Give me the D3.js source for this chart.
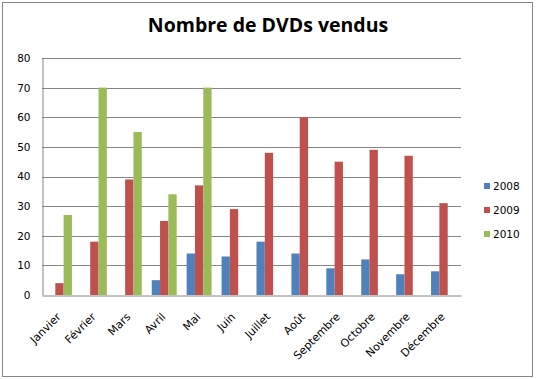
<!DOCTYPE html>
<html><head><meta charset="utf-8">
<script src="https://cdn.jsdelivr.net/npm/d3@7"></script>
<style>body{margin:0;background:#fff}svg{display:block}</style>
</head><body>
<script>
const months = ["Janvier","Février","Mars","Avril","Mai","Juin","Juillet","Août","Septembre","Octobre","Novembre","Décembre"];
const years = ["2008","2009","2010"];
const v2008 = [0,0,0,5,14,13,18,14,9,12,7,8];
const v2009 = [4,18,39,25,37,29,48,60,45,49,47,31];
const v2010 = [27,70,55,34,70,0,0,0,0,0,0,0];
const yTicks = [0,10,20,30,40,50,60,70,80];
const colors = ["#4F81BD","#C0504D","#9BBB59"];
const series = [v2008, v2009, v2010];

const W = 537, H = 379;
const svg = d3.select("body").append("svg").attr("width", W).attr("height", H);
svg.append("rect").attr("x",2.5).attr("y",2.5).attr("width",530).attr("height",374)
  .attr("fill","#fff").attr("stroke","#868686").attr("stroke-width",1);

const plot = {l:42, r:461, t:58, b:295};
const x = d3.scaleBand().domain(months).range([plot.l, plot.r]).paddingInner(0).paddingOuter(0);
const y = d3.scaleLinear().domain([0,80]).range([plot.b, plot.t]);
const bw = x.bandwidth()/4.2;
const xs = d3.scaleBand().domain(years).range([-1.5*bw, 1.5*bw]);

const font = "'DejaVu Sans', sans-serif";

// gridlines
svg.append("g").selectAll("line").data(yTicks.filter(d=>d>0)).join("line")
  .attr("x1",plot.l).attr("x2",plot.r)
  .attr("y1",d=>Math.round(y(d))+0.5).attr("y2",d=>Math.round(y(d))+0.5)
  .attr("stroke","#868686").attr("stroke-width",1);

// y axis
const ya = svg.append("g").attr("transform",`translate(${plot.l+0.5},0)`)
  .call(d3.axisLeft(y).tickValues(yTicks).tickSize(0).tickPadding(12));
ya.select(".domain").attr("stroke","#868686");
ya.selectAll("text").attr("font-family",font).attr("font-size",10.5).attr("fill","#000");

// bars
series.forEach((vals, si) => {
  svg.append("g").selectAll("rect").data(months.map((m,i)=>({m, v:vals[i]})).filter(d=>d.v>0)).join("rect")
    .attr("x", d => x(d.m) + x.bandwidth()/2 + xs(years[si]))
    .attr("width", bw)
    .attr("y", d => y(d.v))
    .attr("height", d => plot.b - y(d.v))
    .attr("fill", colors[si]);
});

// x axis
const xa = svg.append("g").attr("transform",`translate(0,${plot.b+0.5})`)
  .call(d3.axisBottom(x).tickSize(0).tickPadding(0));
xa.select(".domain").attr("stroke","#868686");
xa.selectAll("text")
  .attr("font-family",font).attr("font-size",11).attr("fill","#000")
  .attr("text-anchor","end")
  .attr("transform","translate(2,22) rotate(-45)")
  .attr("dy","0").attr("y",0);

// legend
const lg = svg.append("g");
years.forEach((yr,i)=>{
  const cy = 186 + i*24;
  lg.append("rect").attr("x",484).attr("y",cy-3).attr("width",6).attr("height",6).attr("fill",colors[i]);
  lg.append("text").attr("x",493).attr("y",cy).attr("dy","0.35em")
    .attr("font-family",font).attr("font-size",10.5).text(yr);
});

// title
svg.append("text").attr("x",268).attr("y",32).attr("text-anchor","middle")
  .attr("font-family","'Open Sans', sans-serif").attr("font-weight","bold").attr("font-size",19.5)
  .text("Nombre de DVDs vendus");
</script>
</body></html>
